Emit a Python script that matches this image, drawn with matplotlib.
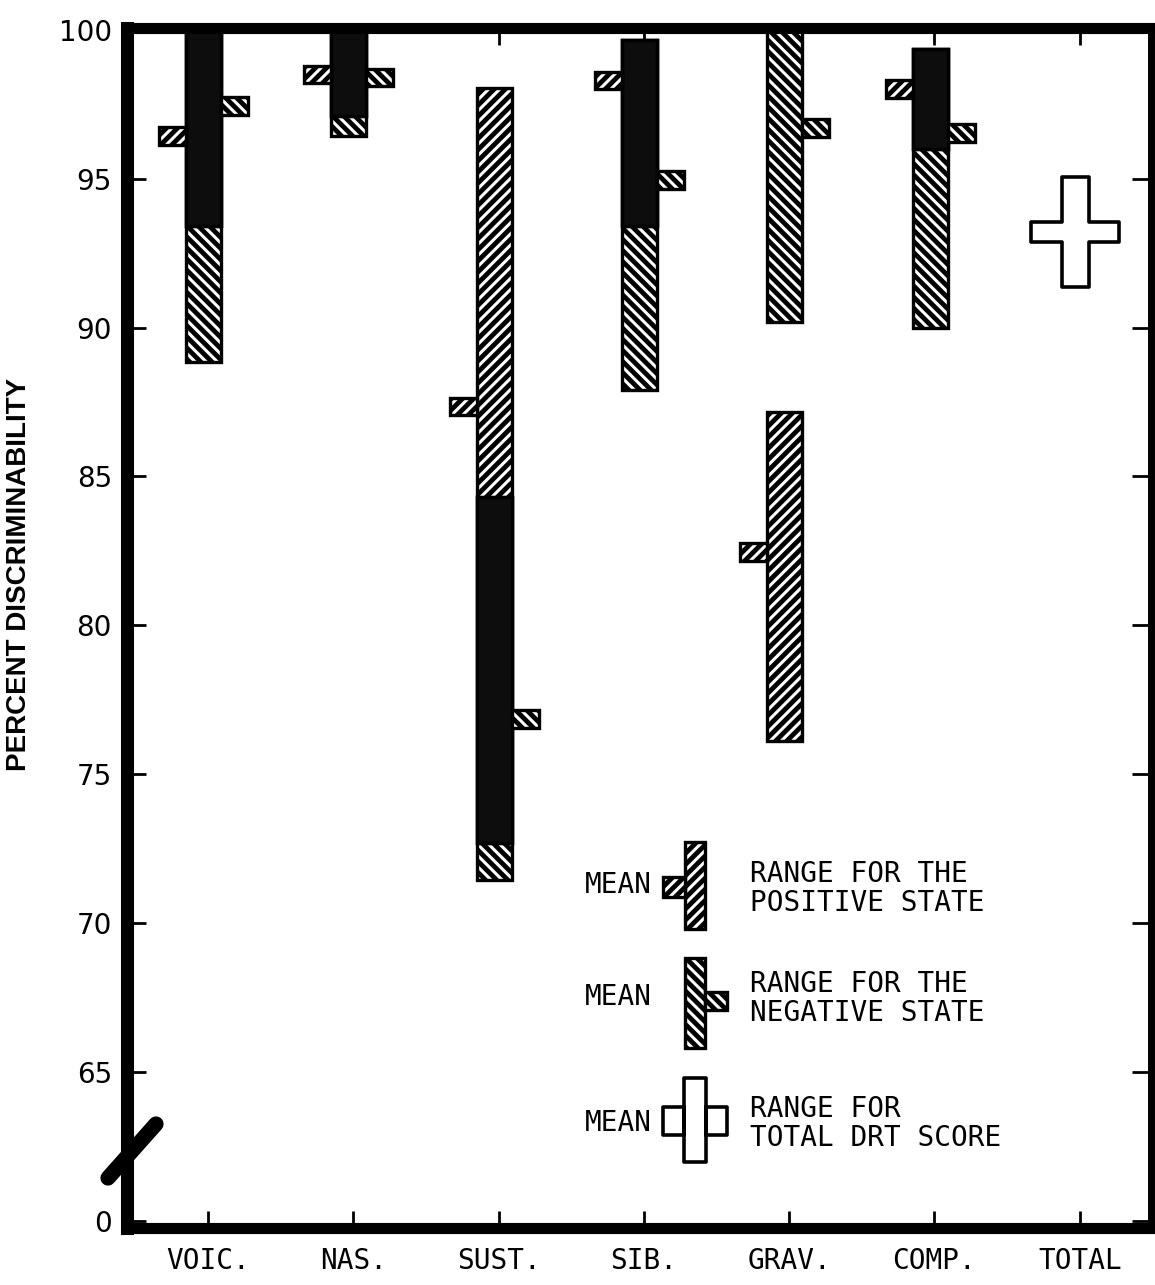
import numpy as np
import matplotlib
matplotlib.use('Agg')
import matplotlib.pyplot as plt
from matplotlib.patches import Rectangle, Polygon
from matplotlib.lines import Line2D

# data (percent discriminability)
categories = ['VOIC.', 'NAS.', 'SUST.', 'SIB.', 'GRAV.', 'COMP.']
pos_low = [93.4, 97.1, 72.7, 93.4, 76.1, 96.0]
pos_high = [100.0, 100.0, 98.05, 99.65, 87.15, 99.35]
pos_mean = [96.45, 98.5, 87.35, 98.3, 82.45, 98.0]
neg_low = [88.85, 96.45, 71.45, 87.9, 90.2, 90.0]
neg_high = [100.0, 100.0, 84.3, 99.65, 100.0, 99.35]
neg_mean = [97.45, 98.4, 76.85, 94.95, 96.7, 96.55]
total_label = 'TOTAL'
total_low = 91.35
total_high = 95.05
total_mean = 93.2

ytick_vals = [60, 65, 70, 75, 80, 85, 90, 95, 100]
ytick_labels = ['0', '65', '70', '75', '80', '85', '90', '95', '100']

W, H, DPI = 1155, 1285, 200
BAR_W = 0.24
TAB_W = 0.186
TAB_H = 0.6
X_OFF = -0.03
MONO = 'DejaVu Sans Mono'
POS_HATCH = '//////'
NEG_HATCH = '\\\\\\\\\\\\'

plt.rcParams['hatch.linewidth'] = 1.1

fig = plt.figure(figsize=(W / DPI, H / DPI), dpi=DPI)
ax = fig.add_axes([127 / W, 1 - 1228 / H, (1151 - 127) / W, (1228 - 27.5) / H])
ax.set_xlim(-0.557, 6.49)
ax.set_ylim(59.76, 100.08)


def hatched(x, lo, hi, width, hatch, z=2):
    ax.bar(x, hi - lo, bottom=lo, width=width, color='black', edgecolor='white',
           hatch=hatch, linewidth=0, zorder=z)
    ax.bar(x, hi - lo, bottom=lo, width=width, fill=False, edgecolor='black',
           linewidth=1.2, zorder=z + 0.5)


for i in range(len(categories)):
    x = i + X_OFF
    hatched(x, pos_low[i], pos_high[i], BAR_W, POS_HATCH)
    hatched(x, neg_low[i], neg_high[i], BAR_W, NEG_HATCH)
    lo = max(pos_low[i], neg_low[i])
    hi = min(pos_high[i], neg_high[i])
    if hi > lo:
        ax.bar(x, hi - lo, bottom=lo, width=BAR_W, color='#0d0d0d', linewidth=1.2,
               edgecolor='black', zorder=3)
    # mean tabs: positive on the left, negative on the right
    hatched(x - BAR_W / 2 - TAB_W / 2, pos_mean[i] - TAB_H / 2, pos_mean[i] + TAB_H / 2,
            TAB_W, POS_HATCH, z=4)
    hatched(x + BAR_W / 2 + TAB_W / 2, neg_mean[i] - TAB_H / 2, neg_mean[i] + TAB_H / 2,
            TAB_W, NEG_HATCH, z=4)


def cross(c, top, bot, m, hv, ha, ah):
    return [(c - hv, top), (c + hv, top), (c + hv, m + ah), (c + ha, m + ah),
            (c + ha, m - ah), (c + hv, m - ah), (c + hv, bot), (c - hv, bot),
            (c - hv, m - ah), (c - ha, m - ah), (c - ha, m + ah), (c - hv, m + ah)]


ax.add_patch(Polygon(cross(len(categories) + X_OFF, total_high, total_low, total_mean,
                           0.093, 0.303, 0.335),
                     closed=True, facecolor='white', edgecolor='black', linewidth=1.3,
                     joinstyle='round', zorder=3))

# axes frame
for side, lw in [('left', 4.7), ('top', 4.0), ('bottom', 4.0), ('right', 2.5)]:
    ax.spines[side].set_linewidth(lw)
    ax.spines[side].set_capstyle('projecting')
    ax.spines[side].set_zorder(6)

ax.set_yticks(ytick_vals)
ax.set_yticklabels(ytick_labels, fontsize=10, family='DejaVu Sans')
ax.set_xticks(range(len(categories) + 1))
ax.set_xticklabels(categories + [total_label], fontsize=10, family=MONO)
ax.tick_params(axis='y', direction='in', left=True, right=True, length=7, width=1, pad=5.4)
ax.tick_params(axis='x', direction='in', top=True, bottom=True, length=6, width=1, pad=7)

fig.text(19 / W, 1 - 574 / H, 'PERCENT DISCRIMINABILITY', rotation=90, ha='center',
         va='center', fontsize=10, fontweight='bold', family='Liberation Sans')

# axis break mark
fig.add_artist(Line2D([108 / W, 156 / W], [1 - 1178 / H, 1 - 1124 / H], color='black',
                      linewidth=5.5, solid_capstyle='round', transform=fig.transFigure,
                      zorder=10))


# legend, drawn in pixel space
def fx(x):
    return x / W


def fy(y):
    return 1 - y / H


def leg_rect(x0, y0, x1, y1, hatch):
    fig.add_artist(Rectangle((fx(x0), fy(y1)), (x1 - x0) / W, (y1 - y0) / H,
                             transform=fig.transFigure, facecolor='black', edgecolor='white',
                             hatch=hatch, linewidth=0))
    fig.add_artist(Rectangle((fx(x0), fy(y1)), (x1 - x0) / W, (y1 - y0) / H,
                             transform=fig.transFigure, fill=False, edgecolor='black',
                             linewidth=1.2))


leg_rect(685, 842, 705, 929, POS_HATCH)
leg_rect(663, 877, 685, 897, POS_HATCH)
leg_rect(685, 958, 705, 1048, NEG_HATCH)
leg_rect(705, 992, 727, 1010, NEG_HATCH)
leg_cross = [(fx(px), fy(py)) for px, py in cross(695, 1078, 1162, 1121, 11, 32, 14)]
fig.add_artist(Polygon(leg_cross, closed=True, transform=fig.transFigure, facecolor='white',
                       edgecolor='black', linewidth=1.3, joinstyle='round'))

leg_rows = [(885, 872, 'RANGE FOR THE\nPOSITIVE STATE'),
            (997, 982, 'RANGE FOR THE\nNEGATIVE STATE'),
            (1123, 1107, 'RANGE FOR\nTOTAL DRT SCORE')]
for my, ty, txt in leg_rows:
    fig.text(fx(585), fy(my), 'MEAN', ha='left', va='center', fontsize=10, family=MONO)
    fig.text(fx(750), fy(ty - 12), txt, ha='left', va='top', fontsize=10, family=MONO,
             linespacing=1.05)

fig.savefig('out.png', dpi=DPI, facecolor='white')
